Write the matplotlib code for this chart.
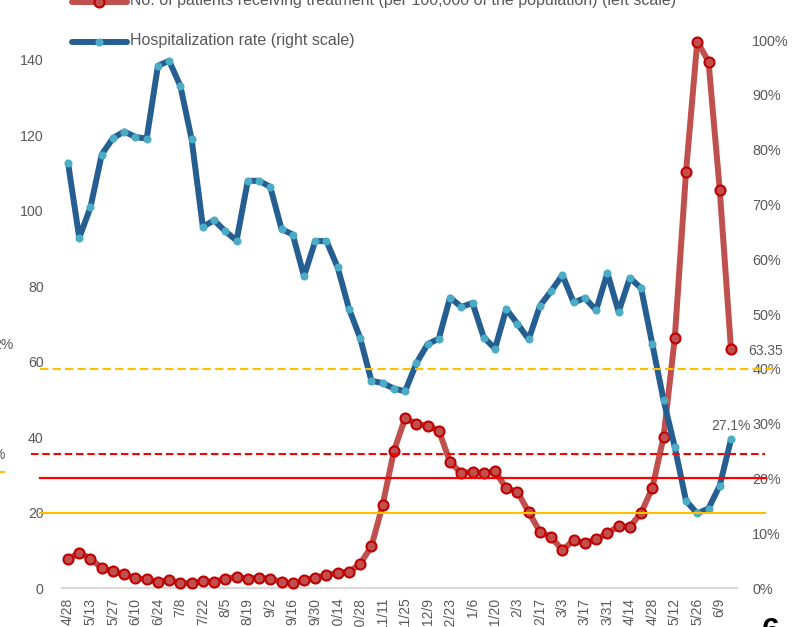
import matplotlib
matplotlib.use("Agg")
import matplotlib.pyplot as plt
from matplotlib.lines import Line2D
from matplotlib.ticker import FixedLocator, FuncFormatter
import numpy as np

plt.rcParams['font.family'] = ['Liberation Sans', 'DejaVu Sans']
plt.rcParams['lines.scale_dashes'] = False

# ---------------- data ----------------
tick_labels = ["4/28", "5/13", "5/27", "6/10", "6/24", "7/8", "7/22", "8/5", "8/19", "9/2",
               "9/16", "9/30", "10/14", "10/28", "11/11", "11/25", "12/9", "12/23", "1/6", "1/20",
               "2/3", "2/17", "3/3", "3/17", "3/31", "4/14", "4/28", "5/12", "5/26", "6/9"]

patients = [7.6, 9.4, 7.8, 5.3, 4.4, 3.6, 2.6, 2.3, 1.6, 2.1,
            1.4, 1.2, 1.8, 1.6, 2.5, 2.9, 2.5, 2.7, 2.5, 1.6,
            1.2, 2.1, 2.7, 3.4, 4.1, 4.2, 6.4, 11.0, 22.0, 36.3,
            45.0, 43.5, 43.0, 41.7, 33.4, 30.4, 30.8, 30.4, 31.0, 26.4,
            25.5, 20.1, 14.9, 13.5, 10.0, 12.7, 11.9, 12.9, 14.5, 16.4,
            16.2, 19.9, 26.5, 40.0, 66.3, 110.3, 144.8, 139.5, 105.5, 63.35]

hosp_rate = [77.6, 63.9, 69.5, 79.1, 82.1, 83.3, 82.3, 82.0, 95.3, 96.2,
             91.6, 81.9, 65.9, 67.1, 65.1, 63.4, 74.3, 74.3, 73.2, 65.5,
             64.5, 56.9, 63.3, 63.3, 58.5, 51.0, 45.6, 37.8, 37.4, 36.4,
             35.9, 41.0, 44.5, 45.5, 53.0, 51.3, 52.0, 45.7, 43.7, 50.9,
             48.2, 45.4, 51.5, 54.2, 57.1, 52.1, 52.9, 50.7, 57.5, 50.4,
             56.6, 54.7, 44.5, 34.3, 25.7, 15.9, 13.6, 14.5, 18.7, 27.1]

left_ticks = [0, 20, 40, 60, 80, 100, 120, 140]
right_ticks = [0, 10, 20, 30, 40, 50, 60, 70, 80, 90, 100]

legend_labels = ["No. of patients receiving treatment (per 100,000 of the population) (left scale)",
                 "Hospitalization rate (right scale)"]

# threshold reference levels
hosp_upper = 40.0        # % (right scale), yellow dashed
patients_upper = 35.4    # left scale, red dashed
hosp_lower = 20.0        # % (right scale), red solid
patients_lower = 20.0    # left scale, yellow solid

# ---------------- styling ----------------
W, H, DPI = 802, 627, 100
GRAY = '#595959'
RED_LINE = '#C0504D'
RED_EDGE = '#C00000'
BLUE_LINE = '#255E91'
BLUE_MARK = '#4BACC6'
YELLOW = '#FFC000'
RED = '#FF0000'

fig = plt.figure(figsize=(W / DPI, H / DPI), dpi=DPI)
fig.patch.set_facecolor('white')


def fx(px):
    return px / W


def fy(py):
    return 1 - py / H


AX_L, AX_R, AX_T, AX_B = 62.4, 736.6, 40.0, 588.0
ax = fig.add_axes([fx(AX_L), fy(AX_B), (AX_R - AX_L) / W, (AX_B - AX_T) / H])
ax2 = ax.twinx()

n = len(patients)
x = np.arange(n)
ax.set_xlim(-0.5, n - 0.5)
ax.set_ylim(0, 145.2)
ax2.set_ylim(0, 100)

LW = 4.3
ax.plot(x, patients, color=RED_LINE, lw=LW, marker='o', ms=7.2, mfc=RED_LINE,
        mec=RED_EDGE, mew=1.5, solid_joinstyle='round', solid_capstyle='round',
        zorder=3, clip_on=False)
ax2.plot(x, hosp_rate, color=BLUE_LINE, lw=LW, marker='o', ms=5.8, mfc=BLUE_MARK,
         mec=BLUE_MARK, mew=0, solid_joinstyle='round', solid_capstyle='round',
         zorder=3, clip_on=False)

# threshold lines (drawn over the series, extending past the plot area)
def px2x(px):
    return (px - 68.0) / ((AX_R - AX_L) / n)


ax2.plot([px2x(40), px2x(777)], [hosp_upper] * 2, color=YELLOW, lw=1.5,
         dashes=(6, 3), zorder=5, clip_on=False)
ax2.plot([px2x(31), px2x(765)], [patients_upper] * 2, color=RED, lw=1.5,
         dashes=(5.4, 2.7), zorder=5, clip_on=False, transform=ax.transData)
ax2.plot([px2x(40), px2x(766)], [hosp_lower] * 2, color=RED, lw=1.6,
         zorder=5, clip_on=False)
ax2.plot([px2x(40), px2x(765)], [patients_lower] * 2, color=YELLOW, lw=1.5,
         zorder=5, clip_on=False, transform=ax.transData)

# axes styling
for s in ax.spines.values():
    s.set_visible(False)
for s in ax2.spines.values():
    s.set_visible(False)
ax.spines['bottom'].set_visible(True)
ax.spines['bottom'].set_color('#D9D9D9')
ax.spines['bottom'].set_linewidth(1.5)

ax.xaxis.set_major_locator(FixedLocator(list(range(0, n, 2))[:len(tick_labels)]))
ax.set_xticklabels(tick_labels, rotation=90, va='top', ha='center')
ax.yaxis.set_major_locator(FixedLocator(left_ticks))
ax2.yaxis.set_major_locator(FixedLocator(right_ticks))
ax2.yaxis.set_major_formatter(FuncFormatter(lambda v, p: f"{v:.0f}%"))

ax.tick_params(axis='x', length=0, pad=7, labelsize=10, labelcolor=GRAY)
ax.tick_params(axis='y', length=0, pad=13.6, labelsize=10.2, labelcolor=GRAY)
ax2.tick_params(axis='y', length=0, pad=11.3, labelsize=10.4, labelcolor=GRAY)

# data labels for the latest values
ax.annotate(f"{patients[-1]:.2f}", xy=(x[-1], patients[-1]), xytext=(12.2, -1.5),
            textcoords='offset points', ha='left', va='center', fontsize=10,
            color=GRAY, zorder=6, annotation_clip=False)
ax2.annotate(f"{hosp_rate[-1]:.1f}%", xy=(x[-1], hosp_rate[-1]), xytext=(0, 4.5),
             textcoords='offset points', ha='center', va='bottom', fontsize=10,
             color=GRAY, zorder=6, annotation_clip=False)

# manual legend (top, partly cut)
rows = [(1.5, RED_LINE, dict(ms=7.2, mfc=RED_LINE, mec=RED_EDGE, mew=1.5)),
        (42.0, BLUE_LINE, dict(ms=5.8, mfc=BLUE_MARK, mec=BLUE_MARK, mew=0))]
for (py, col, mk), label in zip(rows, legend_labels):
    fig.add_artist(Line2D([fx(72), fx(127)], [fy(py), fy(py)], color=col, lw=LW,
                          solid_capstyle='round', transform=fig.transFigure))
    fig.add_artist(Line2D([fx(98.5)], [fy(py)], marker='o', lw=0, transform=fig.transFigure, **mk))
    fig.text(fx(130), fy(py - 1.5), label, ha='left', va='center', fontsize=11.5, color=GRAY)

# cut-off fragments at the left edge and page number
fig.text(fx(13), fy(345), "2%", ha='right', va='center', fontsize=10, color=GRAY)
fig.text(fx(4.5), fy(455), "%", ha='right', va='center', fontsize=10, color=GRAY)
fig.add_artist(Line2D([fx(-5), fx(4)], [fy(472), fy(472)], color=YELLOW, lw=1.5,
                      transform=fig.transFigure))
fig.text(fx(762), fy(640), "6", ha='left', va='baseline', fontsize=23,
         fontweight='bold', color='black')

fig.savefig("out.png", dpi=DPI)
